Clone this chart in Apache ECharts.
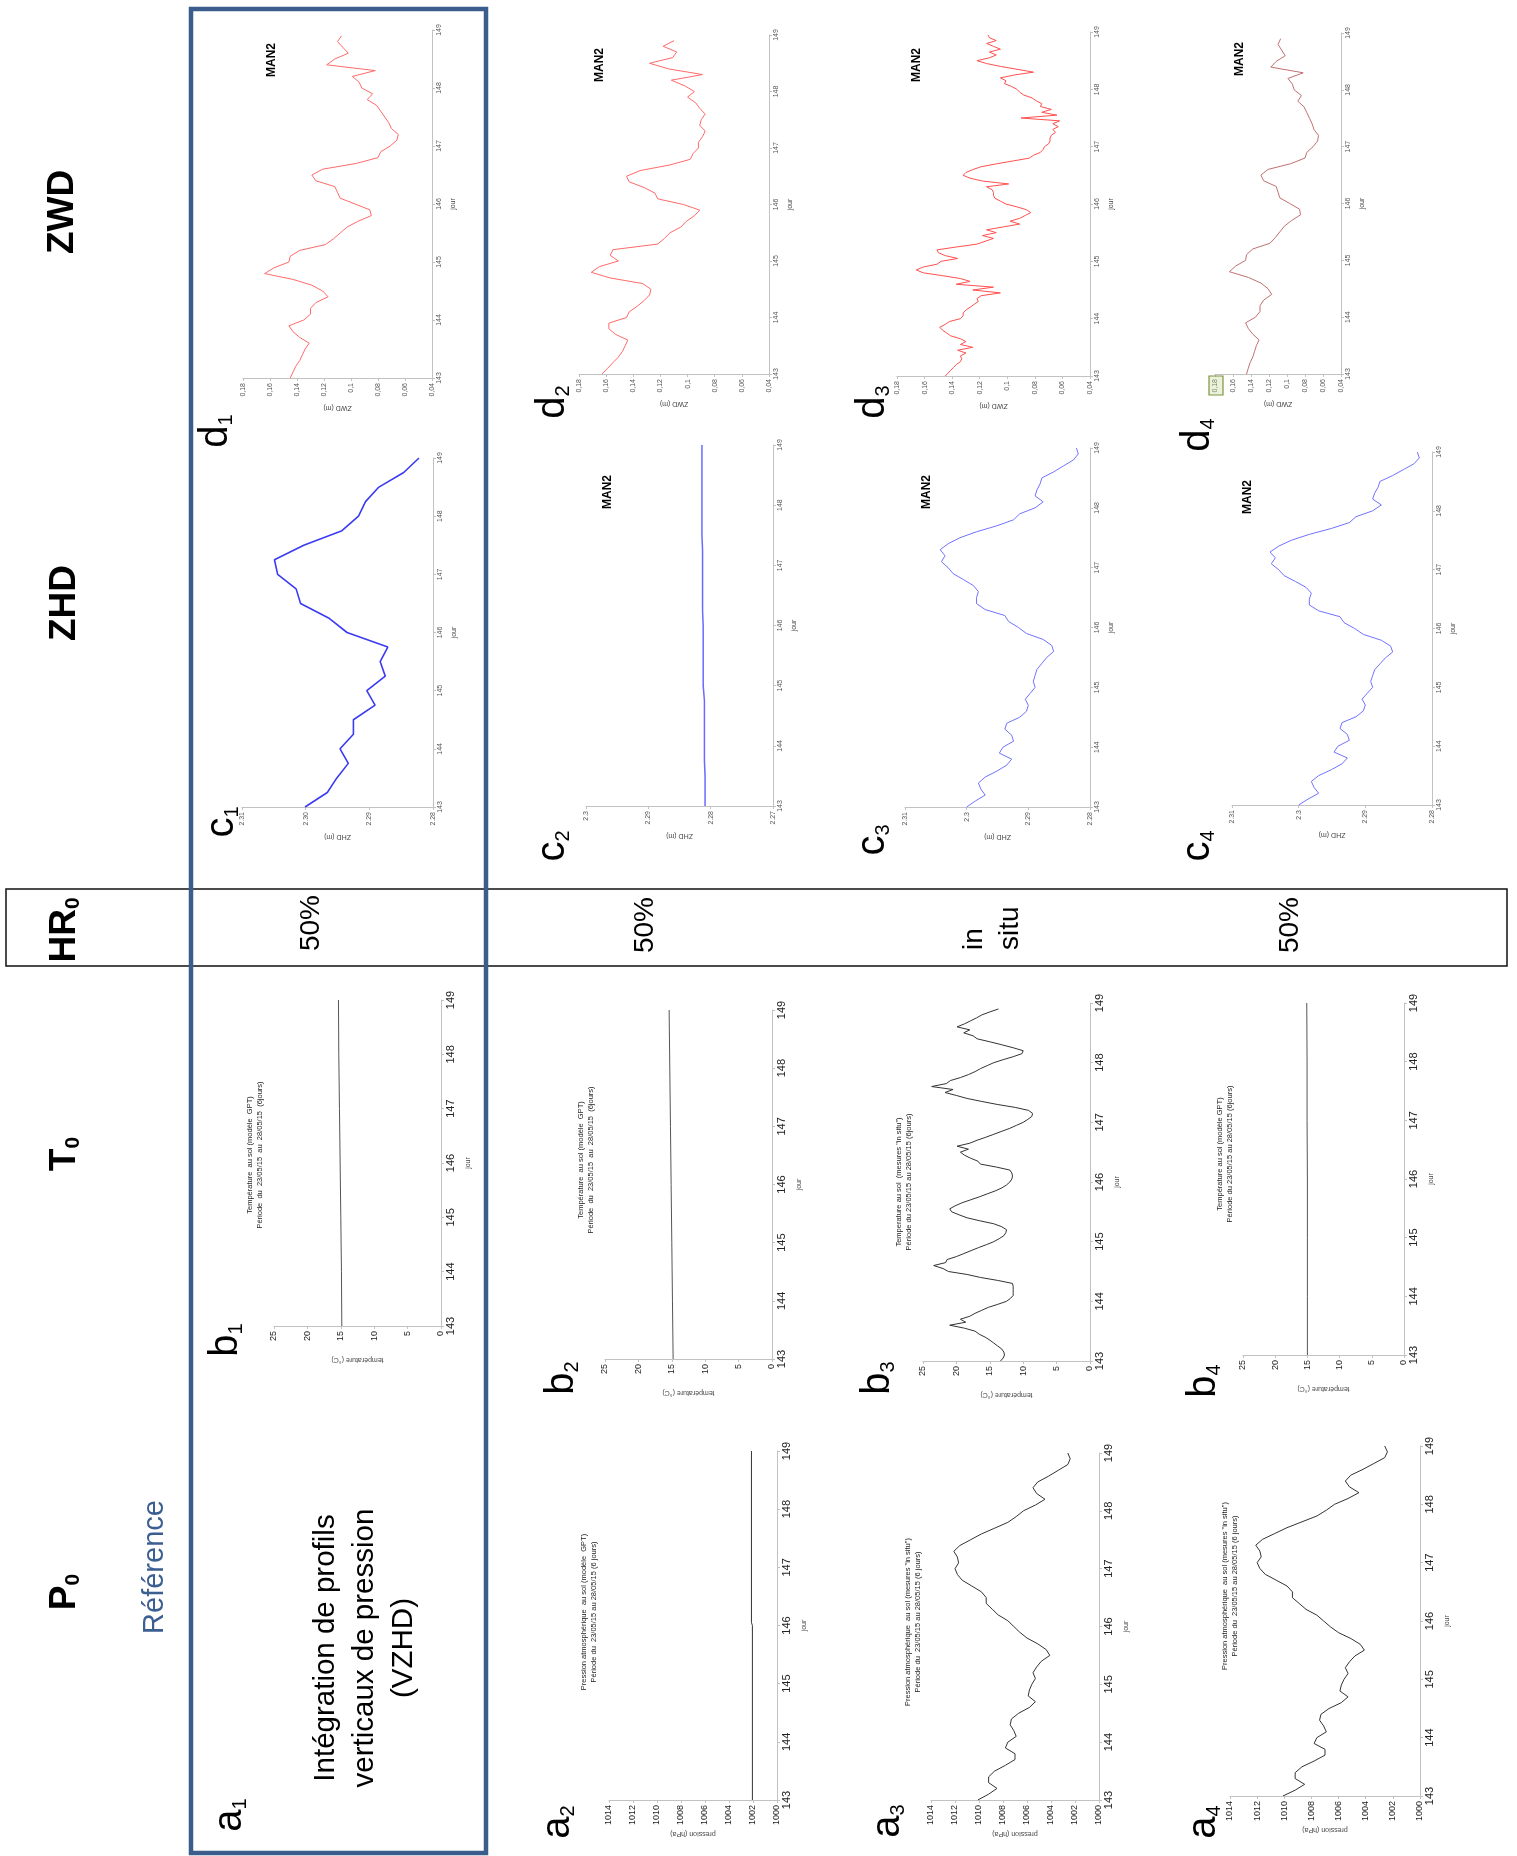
<!DOCTYPE html>
<html><head><meta charset="utf-8">
<script src="https://cdn.jsdelivr.net/npm/echarts@6/dist/echarts.min.js"></script>
<style>html,body{margin:0;padding:0;background:#fff}#c{width:1517px;height:1856px}</style>
</head><body><div id="c"></div><script>
// ---------- data ----------
const dayTicks = [143,144,145,146,147,148,149];
const daysDaily = [143,144,145,146,147,148,149];
const days025 = [143,143.25,143.5,143.75,144,144.25,144.5,144.75,145,145.25,145.5,145.75,146,146.25,146.5,146.75,147,147.25,147.5,147.75,148,148.25,148.5,148.75,149];
const days01 = [143.0,143.1,143.2,143.3,143.4,143.5,143.6,143.7,143.8,143.9,
 144.0,144.1,144.2,144.3,144.4,144.5,144.6,144.7,144.8,144.9,
 145.0,145.1,145.2,145.3,145.4,145.5,145.6,145.7,145.8,145.9,
 146.0,146.1,146.2,146.3,146.4,146.5,146.6,146.7,146.8,146.9,
 147.0,147.1,147.2,147.3,147.4,147.5,147.6,147.7,147.8,147.9,
 148.0,148.1,148.2,148.3,148.4,148.5,148.6,148.7,148.8,148.9,149.0];
const days005 = [143.00,143.05,143.10,143.15,143.20,143.25,143.30,143.35,143.40,143.45,143.50,143.55,143.60,143.65,143.70,143.75,143.80,143.85,143.90,143.95,
 144.00,144.05,144.10,144.15,144.20,144.25,144.30,144.35,144.40,144.45,144.50,144.55,144.60,144.65,144.70,144.75,144.80,144.85,144.90,144.95,
 145.00,145.05,145.10,145.15,145.20,145.25,145.30,145.35,145.40,145.45,145.50,145.55,145.60,145.65,145.70,145.75,145.80,145.85,145.90,145.95,
 146.00,146.05,146.10,146.15,146.20,146.25,146.30,146.35,146.40,146.45,146.50,146.55,146.60,146.65,146.70,146.75,146.80,146.85,146.90,146.95,
 147.00,147.05,147.10,147.15,147.20,147.25,147.30,147.35,147.40,147.45,147.50,147.55,147.60,147.65,147.70,147.75,147.80,147.85,147.90,147.95,
 148.00,148.05,148.10,148.15,148.20,148.25,148.30,148.35,148.40,148.45,148.50,148.55,148.60,148.65,148.70,148.75,148.80,148.85,148.90,148.95,149.00];
const daysPres2 = [143,146.0,146.05,149];

const zwd1 = [0.145,0.143,0.141,0.138,0.136,0.134,0.131,0.138,0.143,0.146,
 0.135,0.130,0.130,0.126,0.117,0.121,0.129,0.143,0.164,0.157,
 0.146,0.145,0.138,0.119,0.113,0.108,0.103,0.095,0.085,0.086,
 0.097,0.108,0.110,0.112,0.126,0.129,0.121,0.096,0.080,0.078,
 0.071,0.066,0.065,0.070,0.072,0.075,0.078,0.081,0.088,0.084,
 0.092,0.094,0.099,0.082,0.118,0.112,0.102,0.106,0.110,0.107,null];
const zwd2 = [0.163,0.159,0.155,0.151,0.148,0.146,0.144,0.153,0.158,0.158,
 0.145,0.143,0.137,0.132,0.128,0.127,0.133,0.157,0.171,0.165,
 0.151,0.157,0.155,0.122,0.117,0.113,0.105,0.101,0.095,0.091,
 0.103,0.122,0.124,0.132,0.143,0.145,0.135,0.113,0.098,0.096,
 0.092,0.092,0.089,0.087,0.091,0.090,0.087,0.091,0.094,0.100,
 0.095,0.102,0.112,0.089,0.114,0.128,0.111,0.108,0.118,0.110,null];
const zwd3 = [0.145,0.143,0.141,0.139,0.137,0.134,0.133,0.134,0.130,0.136,0.125,0.134,0.130,0.134,0.141,0.144,0.147,0.149,0.145,0.142,
 0.134,0.132,0.132,0.130,0.127,0.124,0.121,0.122,0.119,0.105,0.125,0.110,0.137,0.127,0.134,0.147,0.161,0.166,0.161,0.151,
 0.148,0.136,0.145,0.150,0.151,0.137,0.122,0.116,0.110,0.118,0.108,0.115,0.103,0.091,0.098,0.091,0.087,0.083,0.086,0.093,
 0.101,0.105,0.109,0.110,0.110,0.111,0.115,0.099,0.118,0.127,0.132,0.130,0.125,0.119,0.108,0.096,0.084,0.081,0.076,0.074,
 0.073,0.070,0.069,0.069,0.068,0.065,0.067,0.063,0.067,0.062,0.090,0.064,0.075,0.068,0.076,0.075,0.079,0.082,0.088,0.091,
 0.093,0.097,0.102,0.101,0.105,0.095,0.081,0.093,0.105,0.115,0.122,0.113,0.108,0.113,0.105,0.110,0.115,0.108,0.113,0.114,null];
const zwd4 = [0.145,0.143,0.141,0.138,0.136,0.134,0.131,0.138,0.143,0.146,
 0.135,0.130,0.130,0.126,0.117,0.121,0.129,0.143,0.164,0.157,
 0.146,0.145,0.138,0.119,0.113,0.108,0.103,0.095,0.085,0.086,
 0.097,0.108,0.110,0.112,0.126,0.129,0.121,0.096,0.080,0.078,
 0.071,0.066,0.065,0.070,0.072,0.075,0.078,0.081,0.088,0.084,
 0.092,0.094,0.099,0.082,0.118,0.112,0.102,0.106,0.110,0.107,null];

const zhd1 = [2.3001,2.2966,2.2951,2.2933,2.2946,2.2925,2.2925,2.2891,2.2904,2.2875,2.2883,2.2871,2.2935,2.2964,2.3008,2.3015,2.3044,2.3049,2.3003,2.2943,2.2917,2.2906,2.2885,2.2846,2.2822];
const zhd2 = [2.2809,2.2809,2.2809,2.2810,2.2810,2.2810,2.2810,2.2810,2.2812,2.2812,2.2812,2.2812,2.2812,2.2813,2.2813,2.2813,2.2813,2.2813,2.2814,2.2814,2.2814,2.2814,2.2814,2.2814,2.2814];
const zhd3 = [2.3000,2.2986,2.2970,2.2977,2.2981,2.2970,2.2951,2.2935,2.2927,2.2947,
 2.2941,2.2924,2.2927,2.2938,2.2935,2.2914,2.2903,2.2900,2.2905,2.2897,
 2.2889,2.2892,2.2889,2.2886,2.2878,2.2870,2.2859,2.2862,2.2876,2.2903,
 2.2916,2.2932,2.2938,2.2970,2.2984,2.2984,2.2981,2.2989,2.3005,2.3022,
 2.3030,2.3041,2.3035,2.3043,2.3030,2.3011,2.2984,2.2951,2.2924,2.2914,
 2.2889,2.2876,2.2889,2.2886,2.2881,2.2878,2.2859,2.2843,2.2827,2.2819,2.2822];
const zhd4 = [2.3000,2.2986,2.2970,2.2977,2.2981,2.2970,2.2951,2.2935,2.2927,2.2947,
 2.2941,2.2924,2.2927,2.2938,2.2935,2.2914,2.2903,2.2900,2.2905,2.2897,
 2.2889,2.2892,2.2889,2.2886,2.2878,2.2870,2.2859,2.2862,2.2876,2.2903,
 2.2916,2.2932,2.2938,2.2970,2.2984,2.2984,2.2981,2.2989,2.3005,2.3022,
 2.3030,2.3041,2.3035,2.3043,2.3030,2.3011,2.2984,2.2951,2.2924,2.2914,
 2.2889,2.2876,2.2889,2.2886,2.2881,2.2878,2.2859,2.2843,2.2827,2.2819,2.2822];

const temp1 = [14.85,14.9,15.0,15.1,15.2,15.3,15.35];
const temp2 = [14.8,14.9,15.0,15.1,15.2,15.3,15.4];
const temp3 = [13.4,13.0,12.8,12.9,13.2,13.8,14.4,15.0,15.7,16.6,17.2,18.8,21.0,18.6,19.4,18.0,17.2,16.2,15.2,13.8,
 12.5,11.9,11.5,11.5,11.5,11.5,11.6,13.8,16.4,18.4,21.2,22.0,23.4,21.6,21.4,20.0,18.9,17.8,16.7,15.5,
 14.4,13.6,12.9,12.6,12.5,13.2,14.4,16.5,18.4,19.6,20.7,21.0,20.2,19.2,17.9,16.6,15.4,14.2,13.2,12.5,
 12.0,11.7,11.6,11.7,12.0,14.0,16.4,16.8,17.9,18.8,19.4,18.2,19.9,18.0,16.9,15.6,14.4,13.2,12.0,11.0,
 10.0,9.3,8.7,8.6,9.2,11.2,13.9,16.2,18.4,20.0,21.7,20.5,23.7,21.5,20.9,19.4,18.2,17.2,16.4,15.4,
 14.4,13.0,11.5,10.2,10.0,11.5,13.2,15.0,16.9,17.5,18.9,18.0,19.9,18.8,17.9,17.0,16.2,15.0,13.7,null,null];
const temp4 = [15.0,15.0,15.0,15.0,15.05,15.05,15.1];

const pres2 = [1002.05,1002.05,1002.13,1002.13];
const pres3 = [1010.1,1009.2,1008.5,1009.2,1009.2,1008.7,1007.8,1007.0,1007.0,1007.8,
 1007.6,1006.9,1007.1,1007.4,1007.3,1006.7,1005.8,1005.3,1005.9,1005.8,
 1005.6,1005.3,1005.5,1005.2,1004.8,1004.1,1004.4,1005.1,1006.0,1006.6,
 1007.1,1007.6,1008.4,1008.9,1009.4,1009.4,1009.8,1010.6,1011.4,1011.8,
 1012.0,1011.7,1011.8,1012.1,1011.6,1010.7,1009.8,1008.7,1007.6,1006.9,
 1006.3,1005.3,1004.5,1005.2,1005.5,1005.1,1004.2,1003.4,1002.6,1002.4,1002.6];
const pres4 = [1010.1,1009.2,1008.5,1009.2,1009.2,1008.7,1007.8,1007.0,1007.0,1007.8,
 1007.6,1006.9,1007.1,1007.4,1007.3,1006.7,1005.8,1005.3,1005.9,1005.8,
 1005.6,1005.3,1005.5,1005.2,1004.8,1004.1,1004.4,1005.1,1006.0,1006.6,
 1007.1,1007.6,1008.4,1008.9,1009.4,1009.4,1009.8,1010.6,1011.4,1011.8,
 1012.0,1011.7,1011.8,1012.1,1011.6,1010.7,1009.8,1008.7,1007.6,1006.9,
 1006.3,1005.3,1004.5,1005.2,1005.5,1005.1,1004.2,1003.4,1002.6,1002.4,1002.6];

// ---------- layout ----------
const FONT = 'Liberation Sans';
const fmtComma = v => String(Math.round(v*100)/100).replace('.', ',');
const fmt2 = v => v.toFixed(2);
const fmtTrim = v => String(Math.round(v*100)/100);
const fmtInt = v => String(Math.round(v));

const small = {vfs:7, dfs:7, col:'#555', nfs:7, vgap:26, dgap:18, lw:1};
const big = {vfs:9, dfs:11, col:'#222', nfs:7, vgap:30, dgap:24, lw:1};

const panels = [
 {x0:243,x1:432,y0:30,y1:378, v:[0.04,0.18,0.02], fmt:fmtComma, name:'ZWD (m)', days:days01, vals:zwd1, color:'#ff6a6a', st:small},
 {x0:242,x1:433,y0:458,y1:807, v:[2.28,2.31,0.01], fmt:fmt2, name:'ZHD (m)', days:days025, vals:zhd1, color:'#3b3bf2', st:small, lw:1.6},
 {x0:274,x1:441,y0:1000,y1:1326, v:[0,25,5], fmt:fmtInt, name:'température (°C)', days:daysDaily, vals:temp1, color:'#555', st:big},

 {x0:579,x1:769,y0:35,y1:374, v:[0.04,0.18,0.02], fmt:fmtComma, name:'ZWD (m)', days:days01, vals:zwd2, color:'#ff6a6a', st:small},
 {x0:586,x1:773,y0:445,y1:806, v:[2.27,2.30,0.01], fmt:fmtTrim, name:'ZHD (m)', days:days025, vals:zhd2, color:'#6a6aff', st:small, lw:1.5},
 {x0:605,x1:772,y0:1010,y1:1359, v:[0,25,5], fmt:fmtInt, name:'température (°C)', days:daysDaily, vals:temp2, color:'#555', st:big},
 {x0:609,x1:777,y0:1451,y1:1800, v:[1000,1014,2], fmt:fmtInt, name:'pression (hPa)', days:daysPres2, vals:pres2, color:'#333', st:big},

 {x0:897,x1:1090,y0:32,y1:376, v:[0.04,0.18,0.02], fmt:fmtComma, name:'ZWD (m)', days:days005, vals:zwd3, color:'#ff5050', st:small},
 {x0:905,x1:1090,y0:448,y1:807, v:[2.28,2.31,0.01], fmt:fmtTrim, name:'ZHD (m)', days:days01, vals:zhd3, color:'#7272ff', st:small},
 {x0:923,x1:1090,y0:1003,y1:1361, v:[0,25,5], fmt:fmtInt, name:'température (°C)', days:days005, vals:temp3, color:'#333', st:big},
 {x0:931,x1:1099,y0:1453,y1:1800, v:[1000,1014,2], fmt:fmtInt, name:'pression (hPa)', days:days01, vals:pres3, color:'#333', st:big},

 {x0:1215,x1:1341,y0:33,y1:374, v:[0.04,0.18,0.02], fmt:fmtComma, name:'ZWD (m)', days:days01, vals:zwd4, color:'#c07070', st:small},
 {x0:1232,x1:1432,y0:452,y1:805, v:[2.28,2.31,0.01], fmt:fmtTrim, name:'ZHD (m)', days:days01, vals:zhd4, color:'#7272ff', st:small},
 {x0:1243,x1:1404,y0:1003,y1:1355, v:[0,25,5], fmt:fmtInt, name:'température (°C)', days:daysDaily, vals:temp4, color:'#555', st:big},
 {x0:1230,x1:1420,y0:1446,y1:1796, v:[1000,1014,2], fmt:fmtInt, name:'pression (hPa)', days:days01, vals:pres4, color:'#333', st:big}
];

const grids = [], xAxes = [], yAxes = [], series = [];
const axisCol = '#c2c2c2';
panels.forEach((p, i) => {
  const st = p.st;
  grids.push({left:p.x0, top:p.y0, width:p.x1-p.x0, height:p.y1-p.y0, containLabel:false, outerBoundsMode:'none'});
  xAxes.push({gridIndex:i, type:'value', position:'bottom', inverse:true, min:p.v[0], max:p.v[1], interval:p.v[2],
    axisLine:{show:true, onZero:false, lineStyle:{color:axisCol, width:1}},
    axisTick:{show:true, length:3, lineStyle:{color:axisCol}},
    splitLine:{show:false},
    axisLabel:{rotate:90, fontSize:st.vfs, color:st.col, margin:5, formatter:p.fmt, fontFamily:FONT, showMinLabel:true, showMaxLabel:true},
    name:p.name, nameLocation:'middle', nameGap:st.vgap, nameRotate:180,
    nameTextStyle:{fontSize:st.nfs, color:'#444', fontFamily:FONT}});
  yAxes.push({gridIndex:i, type:'value', position:'right', min:dayTicks[0], max:dayTicks[dayTicks.length-1], interval:1,
    axisLine:{show:true, onZero:false, lineStyle:{color:axisCol, width:1}},
    axisTick:{show:true, length:3, lineStyle:{color:axisCol}},
    splitLine:{show:false},
    axisLabel:{rotate:90, fontSize:st.dfs, color:st.col, margin:4, fontFamily:FONT, showMinLabel:true, showMaxLabel:true},
    name:'jour', nameLocation:'middle', nameGap:st.dgap, nameRotate:90,
    nameTextStyle:{fontSize:st.nfs, color:'#444', fontFamily:FONT}});
  const data = [];
  p.days.forEach((d, k) => { if (p.vals[k] != null) data.push([p.vals[k], d]); });
  series.push({type:'line', xAxisIndex:i, yAxisIndex:i, data:data, symbol:'none', showSymbol:false,
    lineStyle:{color:p.color, width:p.lw || st.lw}, animation:false, silent:true});
});

// ---------- graphic texts ----------
const R = Math.PI/2;
const g = [];
function rtext(x, y, text, style) {
  g.push({type:'text', x:x, y:y, rotation:R, z:50,
    style:Object.assign({text:text, x:0, y:0, align:'center', verticalAlign:'middle', fontFamily:FONT, fill:'#000'}, style)});
}
function label(x, y, m, s) {
  rtext(x, y, '{m|'+m+'}{s|'+s+'}', {rich:{m:{fontSize:40, lineHeight:40, fontFamily:FONT}, s:{fontSize:20, lineHeight:12, verticalAlign:'bottom', fontFamily:FONT}}});
}
function header(x, y, m, s) {
  if (s) rtext(x, y, '{m|'+m+'}{s|'+s+'}', {rich:{m:{fontSize:37, lineHeight:37, fontWeight:'bold', fontFamily:FONT}, s:{fontSize:21, lineHeight:12, verticalAlign:'bottom', fontWeight:'bold', fontFamily:FONT}}});
  else rtext(x, y, m, {fontSize:37, fontWeight:'bold'});
}
g.push({type:'rect', z:40, shape:{x:6, y:889, width:1501, height:77}, style:{fill:'none', stroke:'#111', lineWidth:1.5}});
g.push({type:'rect', z:45, shape:{x:191, y:9, width:295, height:1844}, style:{fill:'none', stroke:'#3b5d8c', lineWidth:4.5}});
// small highlighted label box seen on panel d4
g.push({type:'rect', z:44, shape:{x:1209, y:376, width:14, height:19}, style:{fill:'rgba(200,215,150,0.35)', stroke:'#7d9440', lineWidth:1.2}});

header(63, 212, 'ZWD');
header(65, 603, 'ZHD');
header(65, 930, 'HR', '0');
header(65, 1154, 'T', '0');
header(65, 1592, 'P', '0');
rtext(155, 1567, 'Référence', {fontSize:29, fill:'#3c5f91'});

rtext(311, 923, '50%', {fontSize:28});
rtext(645, 925, '50%', {fontSize:28});
rtext(1290, 925, '50%', {fontSize:28});
rtext(992, 950, 'in\nsitu', {fontSize:28, lineHeight:36, align:'left'});

rtext(365, 1648, 'Intégration de profils\nverticaux de pression\n(VZHD)', {fontSize:29.5, lineHeight:39});

label(216, 431, 'd', '1'); label(222, 822, 'c', '1'); label(226, 1340, 'b', '1'); label(230, 1815, 'a', '1');
label(553, 402, 'd', '2'); label(553, 846, 'c', '2'); label(562, 1378, 'b', '2'); label(558, 1822, 'a', '2');
label(873, 402, 'd', '3'); label(873, 840, 'c', '3'); label(878, 1378, 'b', '3'); label(888, 1821, 'a', '3');
label(1198, 435, 'd', '4'); label(1198, 846, 'c', '4'); label(1204, 1381, 'b', '4'); label(1204, 1822, 'a', '4');

const man = {fontSize:12, fontWeight:'bold'};
rtext(272, 60, 'MAN2', man); rtext(600, 65, 'MAN2', man); rtext(917, 65, 'MAN2', man); rtext(1240, 59, 'MAN2', man);
rtext(608, 492, 'MAN2', man); rtext(927, 492, 'MAN2', man); rtext(1248, 497, 'MAN2', man);

const tt = {fontSize:7.5, lineHeight:9.5, fill:'#222'};
rtext(255, 1155, 'Température  au sol (modèle  GPT)\nPériode  du  23/05/15  au  28/05/15  (6jours)', tt);
rtext(586, 1160, 'Température  au sol (modèle  GPT)\nPériode  du  23/05/15  au  28/05/15  (6jours)', tt);
rtext(904, 1182, 'Temperature au sol  (mesures "in situ")\nPériode du 23/05/15 au 28/05/15 (6jours)', tt);
rtext(1225, 1154, 'Température au sol (modèle GPT)\nPériode du 23/05/15 au 28/05/15 (6jours)', tt);
rtext(589, 1612, 'Pression atmosphérique  au sol (modèle  GPT)\nPériode du  23/05/15 au 28/05/15 (6 jours)', tt);
rtext(913, 1622, 'Pression atmosphérique  au sol (mesures "in situ")\nPériode du  23/05/15 au 28/05/15 (6 jours)', tt);
rtext(1230, 1586, 'Pression atmosphérique  au sol (mesures "in situ")\nPériode du  23/05/15 au 28/05/15 (6 jours)', tt);

const chart = echarts.init(document.getElementById('c'), null, {renderer:'canvas'});
chart.setOption({
  animation:false,
  backgroundColor:'#ffffff',
  textStyle:{fontFamily:FONT},
  grid:grids, xAxis:xAxes, yAxis:yAxes, series:series, graphic:g
});
</script></body></html>
